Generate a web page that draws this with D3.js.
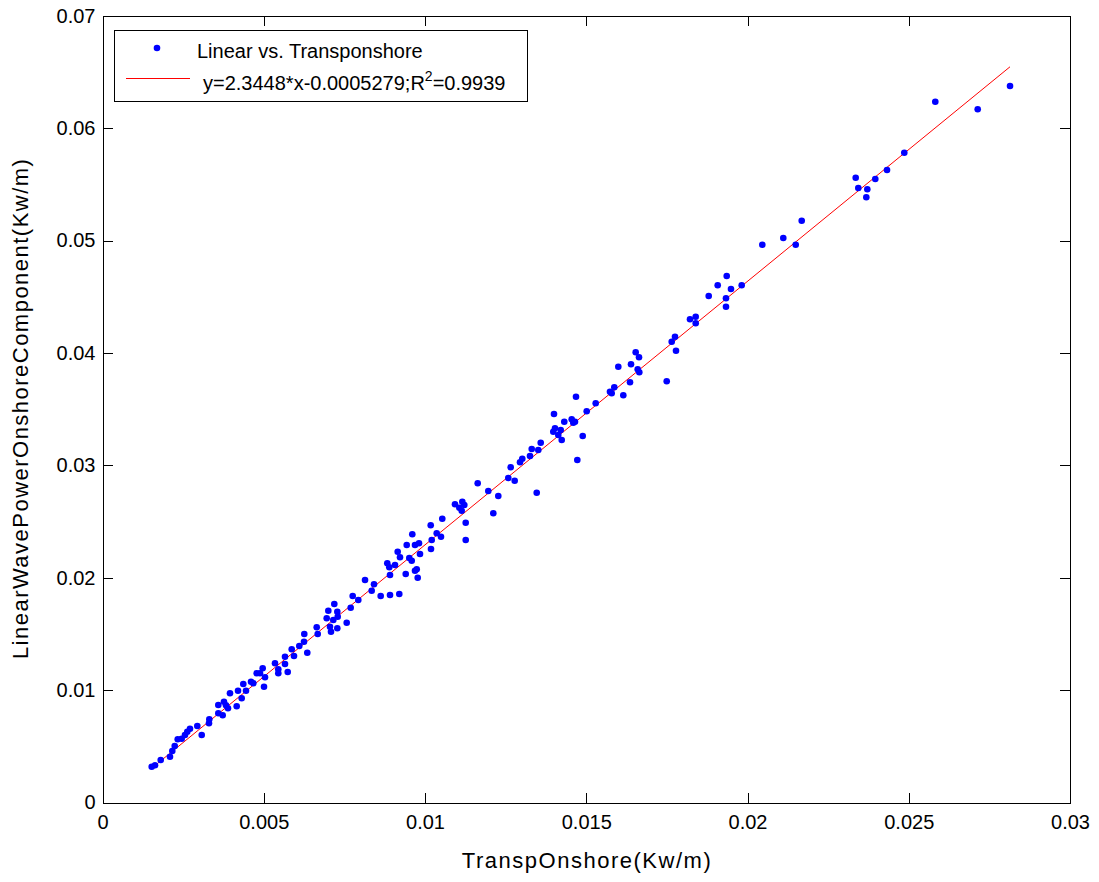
<!DOCTYPE html>
<html>
<head>
<meta charset="utf-8">
<script src="https://cdn.jsdelivr.net/npm/d3@7"></script>
<style>
  body { margin: 0; background: #ffffff; }
  #chart { width: 1099px; height: 882px; }
  text { font-family: "Liberation Sans", Arial, Helvetica, sans-serif; fill: #000000; }
  .axis path, .axis line { stroke: #000000; stroke-width: 1px; shape-rendering: crispEdges; }
  .axis text { font-size: 20px; }
</style>
</head>
<body>
<div id="chart"></div>
<script>
// x : TranspOnshore (Kw/m), y : LinearWavePowerOnshoreComponent (Kw/m)
var xValues = [
  0.001526, 0.001628, 0.001805, 0.002093, 0.002164, 0.002239, 0.002332, 0.002456, 0.002558, 0.002629,
  0.002713, 0.002940, 0.003076, 0.003312, 0.003302, 0.003591, 0.003591, 0.003727, 0.003767, 0.003829,
  0.003891, 0.003953, 0.004161, 0.004202, 0.004316, 0.004366, 0.004450, 0.004605, 0.004676, 0.004781,
  0.004884, 0.004967, 0.005039, 0.005008, 0.005349, 0.005451, 0.005451, 0.005659, 0.005659, 0.005743,
  0.005867, 0.005938, 0.006102, 0.006248, 0.006350, 0.006257, 0.006642, 0.006673, 0.006952, 0.007002,
  0.007054, 0.007085, 0.007157, 0.007188, 0.007281, 0.007293, 0.007281, 0.007572, 0.007696, 0.007758,
  0.007932, 0.008140, 0.008347, 0.008419, 0.008626, 0.008831, 0.008893, 0.008915, 0.008915, 0.009070,
  0.009153, 0.009203, 0.009225, 0.009402, 0.009433, 0.009513, 0.009588, 0.009606, 0.009690, 0.009690,
  0.009743, 0.009774, 0.009814, 0.009845, 0.010177, 0.010186, 0.010208, 0.010363, 0.010496, 0.010536,
  0.010930, 0.011064, 0.011157, 0.011219, 0.011138, 0.011262, 0.011262, 0.011634, 0.011963, 0.012118,
  0.012273, 0.012657, 0.012583, 0.012781, 0.012946, 0.013017, 0.013256, 0.013309, 0.013464, 0.013513,
  0.013588, 0.014000, 0.013978, 0.014031, 0.014133, 0.014208, 0.014239, 0.014319, 0.014549, 0.014598,
  0.014651, 0.014682, 0.014723, 0.014890, 0.015014, 0.015293, 0.015736, 0.015789, 0.015870, 0.015994,
  0.016149, 0.016357, 0.016388, 0.016533, 0.016595, 0.016636, 0.016645, 0.017495, 0.017650, 0.017752,
  0.017783, 0.018217, 0.018394, 0.018394, 0.018797, 0.019076, 0.019333, 0.019333, 0.019355, 0.019488,
  0.019820, 0.020459, 0.021110, 0.021495, 0.021681, 0.023355, 0.023436, 0.023715, 0.023684, 0.023963,
  0.024326, 0.024862, 0.025823, 0.027138, 0.028140
];
var yValues = [
  0.003185, 0.003310, 0.003781, 0.004075, 0.004582, 0.005027, 0.005623, 0.005676, 0.006005, 0.006299,
  0.006566, 0.006806, 0.006005, 0.007402, 0.007046, 0.007936, 0.008674, 0.007758, 0.008968, 0.008648,
  0.008381, 0.009715, 0.008559, 0.009947, 0.009270, 0.010543, 0.009947, 0.010747, 0.010605, 0.011495,
  0.011495, 0.011940, 0.011139, 0.010302, 0.012384, 0.011851, 0.011495, 0.012972, 0.012322, 0.011610,
  0.013630, 0.013034, 0.013923, 0.014306, 0.013327, 0.014991, 0.015587, 0.014991, 0.016388, 0.017064,
  0.015641, 0.015196, 0.016237, 0.017660, 0.016975, 0.016530, 0.015498, 0.015996, 0.017331, 0.018372,
  0.018016, 0.019795, 0.018843, 0.019413, 0.018372, 0.021281, 0.020925, 0.020240, 0.018461, 0.021130,
  0.022313, 0.018550, 0.021815, 0.020329, 0.022909, 0.021753, 0.021512, 0.023861, 0.022909, 0.020623,
  0.020747, 0.020000, 0.023060, 0.022109, 0.024662, 0.022553, 0.023354, 0.023950, 0.023648, 0.025249,
  0.026530, 0.026228, 0.026762, 0.026468, 0.025961, 0.024893, 0.023354, 0.028399, 0.027713, 0.025730,
  0.027269, 0.029822, 0.028870, 0.028630, 0.030267, 0.030587, 0.030827, 0.031450, 0.027562, 0.031361,
  0.032011, 0.034564, 0.032989, 0.033292, 0.032696, 0.033141, 0.032251, 0.033879, 0.034093, 0.033790,
  0.033879, 0.036103, 0.030472, 0.032607, 0.034804, 0.035516, 0.036548, 0.036406, 0.036940, 0.038772,
  0.036228, 0.037384, 0.038986, 0.040053, 0.038541, 0.039609, 0.038274, 0.037473, 0.040996, 0.041441,
  0.040196, 0.042989, 0.043221, 0.042633, 0.045062, 0.046014, 0.044858, 0.044110, 0.046842, 0.045685,
  0.046014, 0.049626, 0.050222, 0.049626, 0.051762, 0.055587, 0.054671, 0.054555, 0.053843, 0.055472,
  0.056272, 0.057811, 0.062349, 0.061673, 0.063746
];

// fitted line y = 2.3448*x - 0.0005279, drawn over the x range of the data
var fitSlope = 2.3448;
var fitIntercept = -0.0005279;
var fitRange = [0.00150, 0.02814];

var xTicks = [0, 0.005, 0.01, 0.015, 0.02, 0.025, 0.03];
var xTickLabels = ["0", "0.005", "0.01", "0.015", "0.02", "0.025", "0.03"];
var yTicks = [0, 0.01, 0.02, 0.03, 0.04, 0.05, 0.06, 0.07];
var yTickLabels = ["0", "0.01", "0.02", "0.03", "0.04", "0.05", "0.06", "0.07"];

var legendLabels = ["Linear vs. Transponshore", "y=2.3448*x-0.0005279;R", "2", "=0.9939"];

var width = 1099;
var height = 882;
var margin = {top: 15.7, left: 102.5, right: 29, bottom: 79.5};
var tickLen = 10;

var svg = d3.select("#chart")
    .append("svg")
    .attr("width", width)
    .attr("height", height);

var xScale = d3.scaleLinear()
    .domain([0, 0.03])
    .range([margin.left, width - margin.right]);

var yScale = d3.scaleLinear()
    .domain([0, 0.07])
    .range([height - margin.bottom, margin.top]);

// MATLAB style box: ticks point inward on all four sides, labels only bottom/left
var xAxis = svg.append("g")
    .attr("class", "axis")
    .attr("transform", `translate(0,${height - margin.bottom})`)
    .call(d3.axisBottom(xScale).tickValues(xTicks)
        .tickFormat(function(d, i) { return xTickLabels[i]; })
        .tickSizeInner(-tickLen).tickSizeOuter(0).tickPadding(12));

var xAxisTop = svg.append("g")
    .attr("class", "axis")
    .attr("transform", `translate(0,${margin.top})`)
    .call(d3.axisTop(xScale).tickValues(xTicks).tickFormat("")
        .tickSizeInner(-tickLen).tickSizeOuter(0));

var yAxis = svg.append("g")
    .attr("class", "axis")
    .attr("transform", `translate(${margin.left},0)`)
    .call(d3.axisLeft(yScale).tickValues(yTicks)
        .tickFormat(function(d, i) { return yTickLabels[i]; })
        .tickSizeInner(-tickLen).tickSizeOuter(0).tickPadding(7));

var yAxisRight = svg.append("g")
    .attr("class", "axis")
    .attr("transform", `translate(${width - margin.right},0)`)
    .call(d3.axisRight(yScale).tickValues(yTicks).tickFormat("")
        .tickSizeInner(-tickLen).tickSizeOuter(0));

svg.selectAll(".axis text").attr("font-family", null);

// axis labels, a little larger than the tick labels
svg.append("text")
    .attr("x", (margin.left + width - margin.right) / 2)
    .attr("y", 868)
    .attr("text-anchor", "middle")
    .attr("font-size", "22px")
    .attr("textLength", 249)
    .attr("lengthAdjust", "spacing")
    .text("TranspOnshore(Kw/m)");

svg.append("text")
    .attr("transform", "rotate(-90)")
    .attr("x", -(margin.top + height - margin.bottom) / 2)
    .attr("y", 28)
    .attr("text-anchor", "middle")
    .attr("font-size", "22px")
    .attr("textLength", 500)
    .attr("lengthAdjust", "spacing")
    .text("LinearWavePowerOnshoreComponent(Kw/m)");

// fit line
var fitData = fitRange.map(function(x) { return {x: x, y: fitSlope * x + fitIntercept}; });
svg.append("path")
    .datum(fitData)
    .attr("fill", "none")
    .attr("stroke", "#ff0000")
    .attr("stroke-width", 1)
    .attr("d", d3.line()
        .x(function(d) { return xScale(d.x); })
        .y(function(d) { return yScale(d.y); }));

// scatter points
svg.selectAll("circle.pt")
    .data(xValues.map(function(x, i) { return {x: x, y: yValues[i]}; }))
    .enter()
    .append("circle")
    .attr("class", "pt")
    .attr("cx", function(d) { return xScale(d.x); })
    .attr("cy", function(d) { return yScale(d.y); })
    .attr("r", 3.3)
    .attr("fill", "#0000ff");

// legend
var legend = svg.append("g");
legend.append("rect")
    .attr("x", 114.5)
    .attr("y", 30.5)
    .attr("width", 413)
    .attr("height", 71)
    .attr("fill", "#ffffff")
    .attr("stroke", "#000000")
    .attr("stroke-width", 1)
    .attr("shape-rendering", "crispEdges");

legend.append("circle")
    .attr("cx", 157)
    .attr("cy", 48)
    .attr("r", 3.3)
    .attr("fill", "#0000ff");

legend.append("text")
    .attr("x", 197)
    .attr("y", 57.5)
    .attr("font-size", "20px")
    .text(legendLabels[0]);

legend.append("line")
    .attr("x1", 126)
    .attr("x2", 190)
    .attr("y1", 78.5)
    .attr("y2", 78.5)
    .attr("stroke", "#ff0000")
    .attr("stroke-width", 1);

var fitLabel = legend.append("text")
    .attr("x", 203)
    .attr("y", 90)
    .attr("font-size", "20px");
fitLabel.append("tspan").text(legendLabels[1]);
fitLabel.append("tspan").attr("dy", -9).attr("font-size", "14px").text(legendLabels[2]);
fitLabel.append("tspan").attr("dy", 9).text(legendLabels[3]);
</script>
</body>
</html>
